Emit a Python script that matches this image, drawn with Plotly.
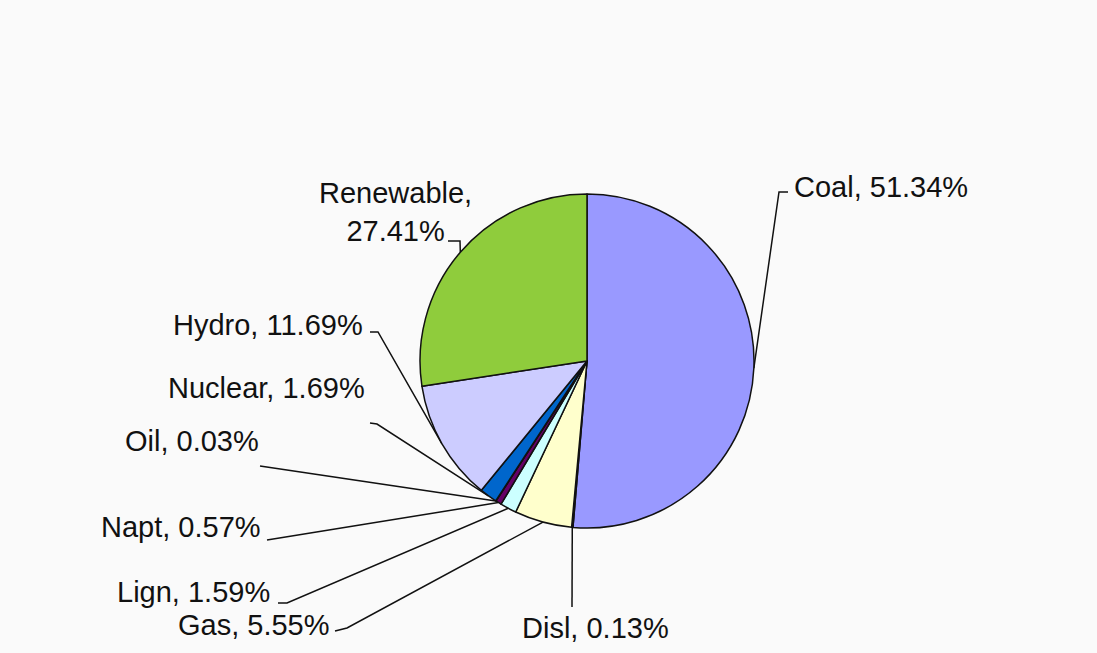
import math
import plotly.graph_objects as go

# ---- data ----
labels = ["Coal", "Disl", "Gas", "Lign", "Napt", "Oil", "Nuclear", "Hydro", "Renewable"]
values = [51.34, 0.13, 5.55, 1.59, 0.57, 0.03, 1.69, 11.69, 27.41]
colors = ["#9999FF", "#993366", "#FFFFCC", "#CCFFFF", "#660066", "#FF8080", "#0066CC", "#CCCCFF", "#8FCC3C"]

# ---- layout constants (pixels) ----
W, H = 1097, 653
CX, CY, R = 587, 361, 167
FONT = dict(family="Liberation Sans, Arial, sans-serif", size=29, color="#111111")

# label placement: (x, y, xanchor) and leader start points
label_pos = {
    "Coal": (792, 187, "left"),
    "Renewable": (395, 212, "center"),
    "Hydro": (365, 325, "right"),
    "Nuclear": (367, 388, "right"),
    "Oil": (261, 441, "right"),
    "Napt": (263, 527, "right"),
    "Lign": (272, 592, "right"),
    "Gas": (332, 625, "right"),
    "Disl": (595, 628, "center"),
}
leader_start = {
    "Coal": [(788, 192), (779, 192)],
    "Renewable": [(448, 241), (460, 241)],
    "Hydro": [(370, 332), (378, 332)],
    "Nuclear": [(370, 423), (377, 424)],
    "Oil": [(260, 466)],
    "Napt": [(267, 540)],
    "Lign": [(278, 603), (287, 603)],
    "Gas": [(335, 631), (347, 628)],
    "Disl": [(572, 607)],
}

fig = go.Figure()

fig.add_trace(go.Pie(
    labels=labels, values=values, sort=False, direction="clockwise", rotation=0,
    marker=dict(colors=colors, line=dict(color="#111111", width=1.5)),
    textinfo="none", showlegend=False, hoverinfo="label+percent",
    domain=dict(x=[(CX - R) / W, (CX + R) / W], y=[1 - (CY + R) / H, 1 - (CY - R) / H]),
))

total = sum(values)
cum = 0.0
annotations = []
for lab, v in zip(labels, values):
    mid = (cum + v / 2) / total * 2 * math.pi
    cum += v
    ex = CX + R * math.sin(mid)
    ey = CY - R * math.cos(mid)
    pts = leader_start[lab] + [(ex, ey)]
    fig.add_trace(go.Scatter(
        x=[p[0] for p in pts], y=[p[1] for p in pts], mode="lines",
        line=dict(color="#111111", width=1.5), hoverinfo="skip", showlegend=False,
        xaxis="x", yaxis="y",
    ))
    pct = f"{v:.2f}%"
    text = f"{lab},<br>{pct}" if lab == "Renewable" else f"{lab}, {pct}"
    lx, ly, xa = label_pos[lab]
    annotations.append(dict(
        x=lx, y=ly, xref="x", yref="y", text=text, showarrow=False,
        xanchor=xa, yanchor="middle", align="center", font=FONT,
    ))

fig.update_layout(
    width=W, height=H,
    margin=dict(l=0, r=0, t=0, b=0),
    paper_bgcolor="#fafafa", plot_bgcolor="rgba(0,0,0,0)",
    xaxis=dict(range=[0, W], visible=False, domain=[0, 1], fixedrange=True),
    yaxis=dict(range=[H, 0], visible=False, domain=[0, 1], fixedrange=True),
    annotations=annotations,
    showlegend=False,
)

fig.write_html("out.html", config={"displayModeBar": False},
               post_script="document.body.style.margin='0';")
